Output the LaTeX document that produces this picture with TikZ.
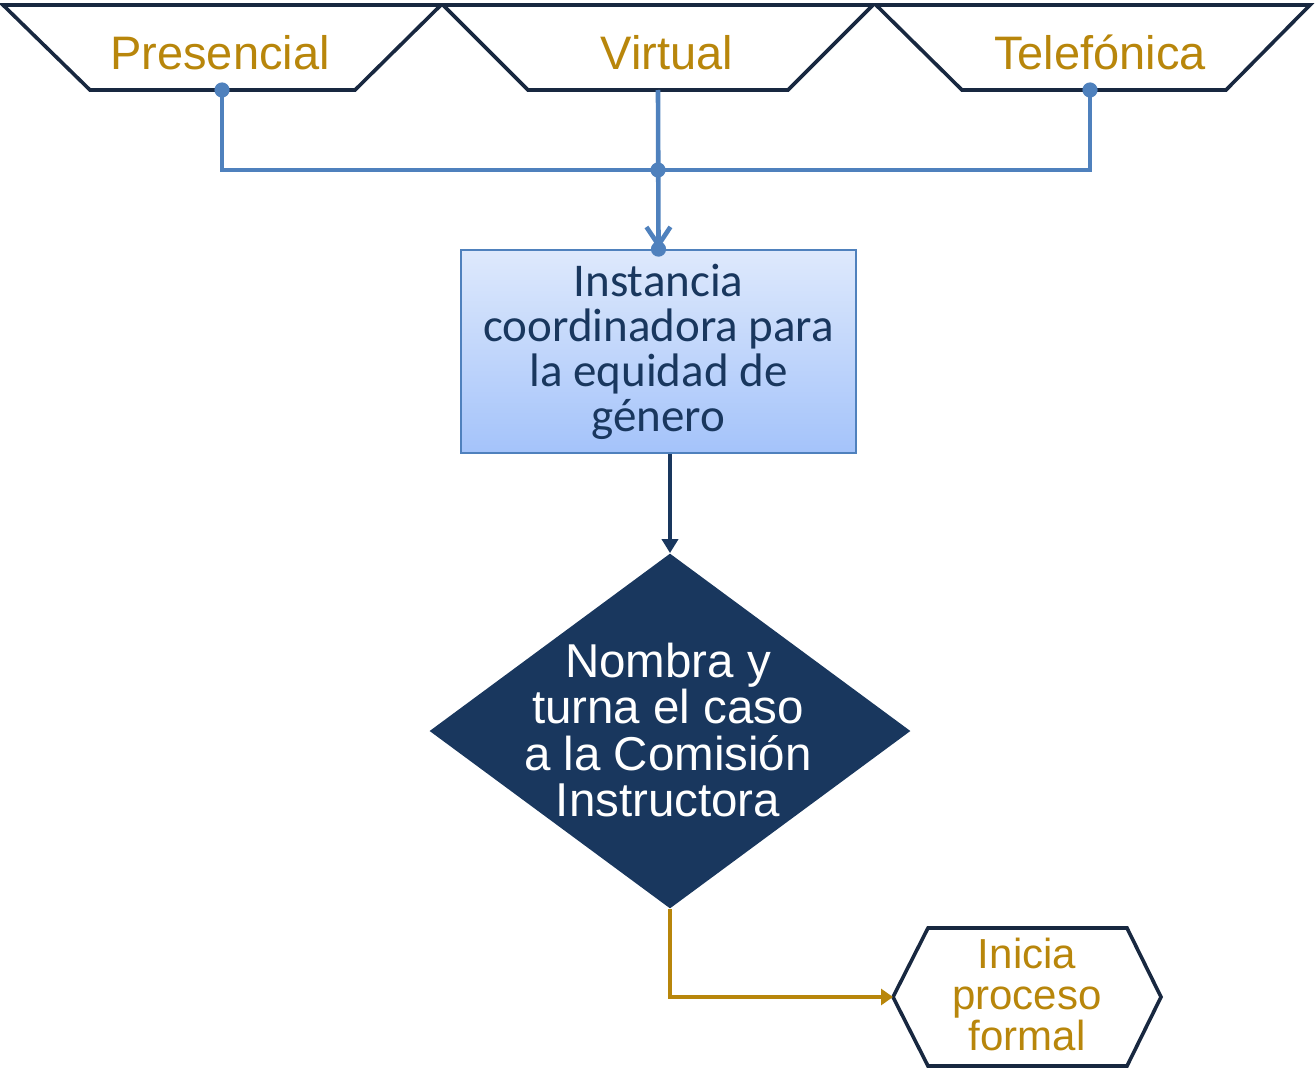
\documentclass[tikz,border=0pt]{standalone}
\usepackage{fontspec}
\setmainfont{Liberation Sans}
\newfontfamily\calibri{Carlito}
\usepackage{xcolor}
\usetikzlibrary{arrows.meta}
\usetikzlibrary{shapes.geometric}
\definecolor{navyline}{RGB}{24,40,64}
\definecolor{navyfill}{RGB}{25,55,94}
\definecolor{steel}{RGB}{79,129,189}
\definecolor{goldtext}{RGB}{184,134,11}
\definecolor{boxtop}{RGB}{222,233,252}
\definecolor{boxbot}{RGB}{164,195,250}

\begin{document}
\begin{tikzpicture}[x=0.5pt,y=-0.5pt,
    channel/.style={draw=navyline,line width=1.8pt,line join=miter},
    chtext/.style={anchor=base,text=goldtext,font=\fontsize{23.5}{28}\selectfont},
    flow/.style={draw=steel,line width=2.3pt},
    joint/.style={fill=steel},
    instbox/.style={draw=steel,line width=0.9pt,top color=boxtop,bottom color=boxbot,
      minimum width=197.5pt,minimum height=101.5pt,inner sep=0pt,align=center,
      text=navyfill,font=\calibri\fontsize{23.5}{22.5}\selectfont},
    decision/.style={diamond,fill=navyfill,minimum width=240.5pt,minimum height=177.5pt,inner sep=0pt},
    dectext/.style={align=center,text=white,font=\fontsize{23.75}{23.2}\selectfont},
    outcome/.style={draw=navyline,line width=1.8pt},
    outtext/.style={align=center,text=goldtext,font=\fontsize{21}{20.5}\selectfont}]
  \useasboundingbox (0,0) rectangle (1316,1070);

  % Channels
  \draw[channel] (3,5) -- (441,5) -- (355,90) -- (90,90) -- cycle;
  \draw[channel] (443,5) -- (873,5) -- (788,90) -- (528,90) -- cycle;
  \draw[channel] (876,5) -- (1310,5) -- (1226,90) -- (962,90) -- cycle;
  \node[chtext] (presencial) at (220,70) {Presencial};
  \node[chtext] (virtual) at (667,70) {Virtual};
  \node[chtext] (telefonica) at (1100,70) {Telefónica};
  \coordinate (presencial-b) at (222,90);
  \coordinate (virtual-b) at (658,90);
  \coordinate (telefonica-b) at (1090,90);
  \coordinate (junction) at (658,170);

  % Boxes
  \node[instbox] (instancia) at (658.5,351.5) {Instancia\\coordinadora para\\la equidad de\\género};
  \node[decision] (turna) at (670,731) {};
  \node[dectext] (turnatxt) at (668,730) {Nombra y\\turna el caso\\a la Comisión\\Instructora};
  \draw[outcome] (893,997) -- (928,928) -- (1127,928) -- (1161,997) -- (1127,1066) -- (928,1066) -- cycle;
  \node[outtext] (formal) at (1027,994) {Inicia\\proceso\\formal};
  \coordinate (formal-w) at (893,997);

  % Connectors
  \draw[flow] (presencial-b) |- (junction) -| (telefonica-b);
  \draw[flow,-{Straight Barb[length=9pt,width=12pt,line width=2.3pt]}] (virtual-b) -- (instancia.north);
  \fill[joint] (presencial-b) circle (3.8pt);
  \fill[joint] (telefonica-b) circle (3.8pt);
  \fill[joint] (junction) circle (3.8pt);
  \fill[joint] (instancia.north) circle (3.8pt);
  \draw[navyfill,line width=1.8pt,-{Triangle[length=7pt,width=8pt]}] (instancia.south -| turna.north) -- (turna.north);
  \draw[goldtext,line width=2.3pt,-{Triangle[length=6pt,width=8pt]}] (turna.south) |- (formal-w);
\end{tikzpicture}
\end{document}
